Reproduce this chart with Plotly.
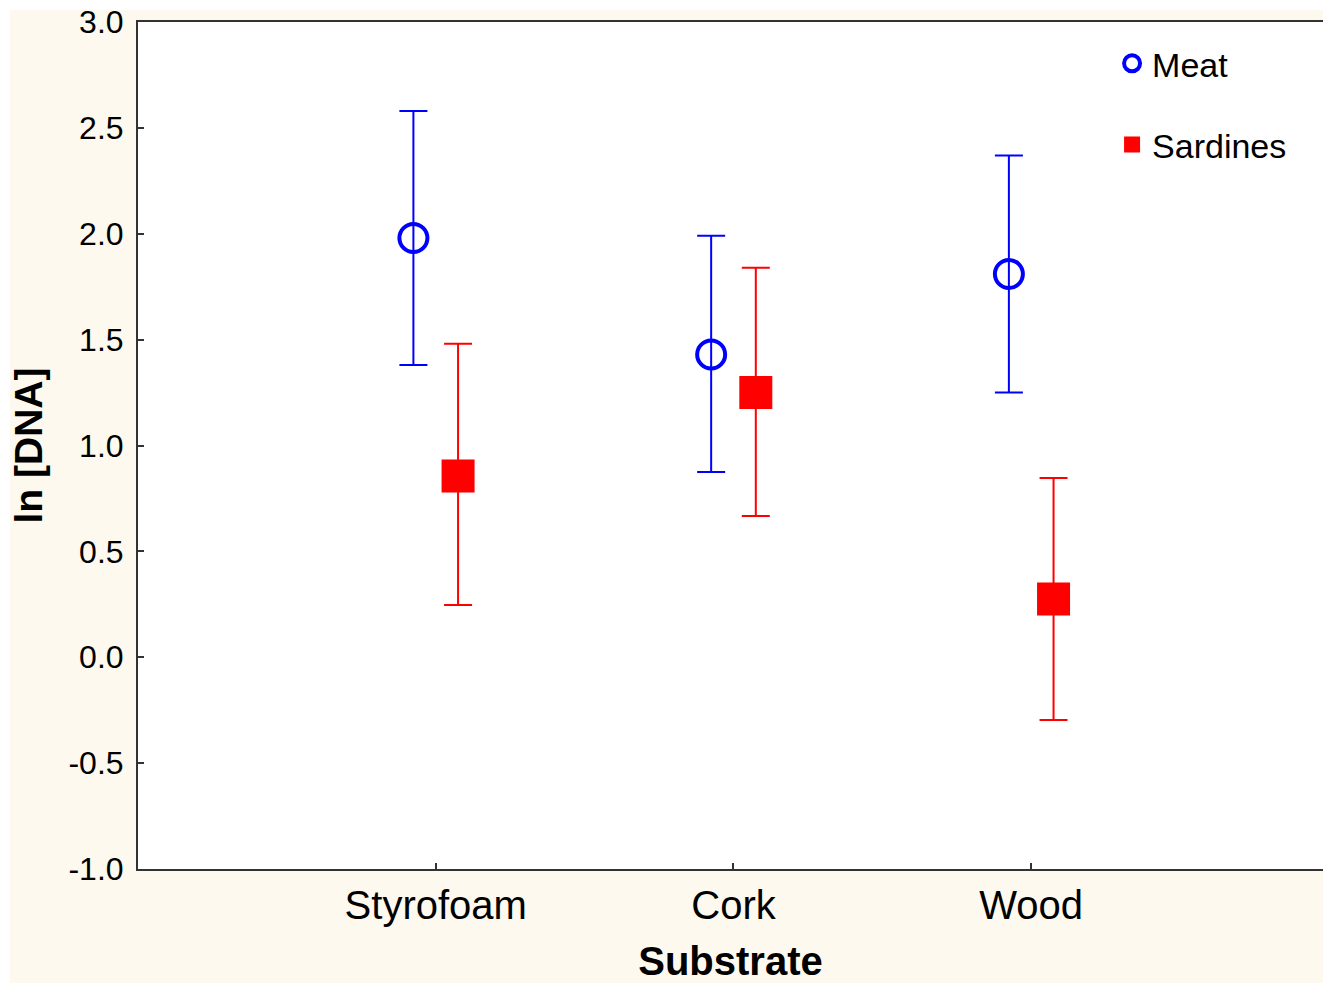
import plotly.graph_objects as go

# ── Data ───────────────────────────────────────────────────────────────────────
substrates = ['Styrofoam', 'Cork', 'Wood']
sub_pos = [0, 1, 2]
offset = 0.075

meat_mean = [1.98, 1.43, 1.81]
meat_upper = [2.58, 1.99, 2.37]
meat_lower = [1.38, 0.875, 1.25]

sard_mean = [0.856, 1.25, 0.275]
sard_upper = [1.48, 1.84, 0.847]
sard_lower = [0.247, 0.667, -0.296]

y_ticks = [3.0, 2.5, 2.0, 1.5, 1.0, 0.5, 0.0, -0.5, -1.0]

CREAM = '#fdf9ef'
FONT = 'Liberation Sans, Arial, sans-serif'


def err(mean, upper, lower, color):
    return dict(type='data', symmetric=False,
                array=[u - m for u, m in zip(upper, mean)],
                arrayminus=[m - l for m, l in zip(mean, lower)],
                color=color, thickness=2, width=14)


fig = go.Figure()
fig.add_trace(go.Scatter(
    x=[p - offset for p in sub_pos], y=meat_mean, mode='markers', name='Meat',
    legendgroup='a',
    marker=dict(symbol='circle-open', size=28, color='#0000ff',
                line=dict(width=4, color='#0000ff')),
    error_y=err(meat_mean, meat_upper, meat_lower, '#0000ff'),
))
fig.add_trace(go.Scatter(
    x=[p + offset for p in sub_pos], y=sard_mean, mode='markers', name='Sardines',
    legendgroup='b',
    marker=dict(symbol='square', size=33, color='#ff0000'),
    error_y=err(sard_mean, sard_upper, sard_lower, '#ff0000'),
))

# thin white strips along the left and top page edge
fig.add_shape(type='rect', xref='paper', yref='paper',
              x0=-0.2, x1=(10 - 138) / 1185, y0=-0.2, y1=1.2,
              fillcolor='white', line_width=0, layer='below')
fig.add_shape(type='rect', xref='paper', yref='paper',
              x0=-0.2, x1=1.1, y0=(869 - 10) / 847, y1=1.2,
              fillcolor='white', line_width=0, layer='below')

fig.update_layout(
    width=1323, height=983,
    margin=dict(l=138, r=0, t=22, b=114),
    paper_bgcolor=CREAM, plot_bgcolor='white',
    font=dict(family=FONT, color='black', size=32),
    showlegend=True,
    legend=dict(x=0.822, y=0.985, xanchor='left', yanchor='top',
                bgcolor='rgba(0,0,0,0)', font=dict(size=34),
                tracegroupgap=34, traceorder='grouped'),
    xaxis=dict(range=[-1, 2.98], tickvals=sub_pos, ticktext=substrates,
               ticks='inside', ticklen=6, tickwidth=1.5, tickcolor='#333',
               showline=True, linecolor='#333', linewidth=2, mirror=True,
               showgrid=False, zeroline=False, automargin=False,
               tickfont=dict(size=40),
               title=dict(text='<b>Substrate</b>', font=dict(size=40), standoff=33)),
    yaxis=dict(range=[-1, 3], tickvals=y_ticks,
               ticktext=[f'{v:.1f}' for v in y_ticks],
               ticks='inside', ticklen=6, tickwidth=1.5, tickcolor='#333',
               ticklabelstandoff=6, ticklabeloverflow='allow',
               showline=True, linecolor='#333', linewidth=2,
               showgrid=False, zeroline=False, automargin=False,
               tickfont=dict(size=32),
               title=dict(text='<b>ln [DNA]</b>', font=dict(size=39), standoff=14)),
)

# drop the default body margin so the figure fills the window exactly
fig.write_html('out.html', config={'displayModeBar': False},
               post_script="document.body.style.margin='0';"
                           "document.body.style.overflow='hidden';")
